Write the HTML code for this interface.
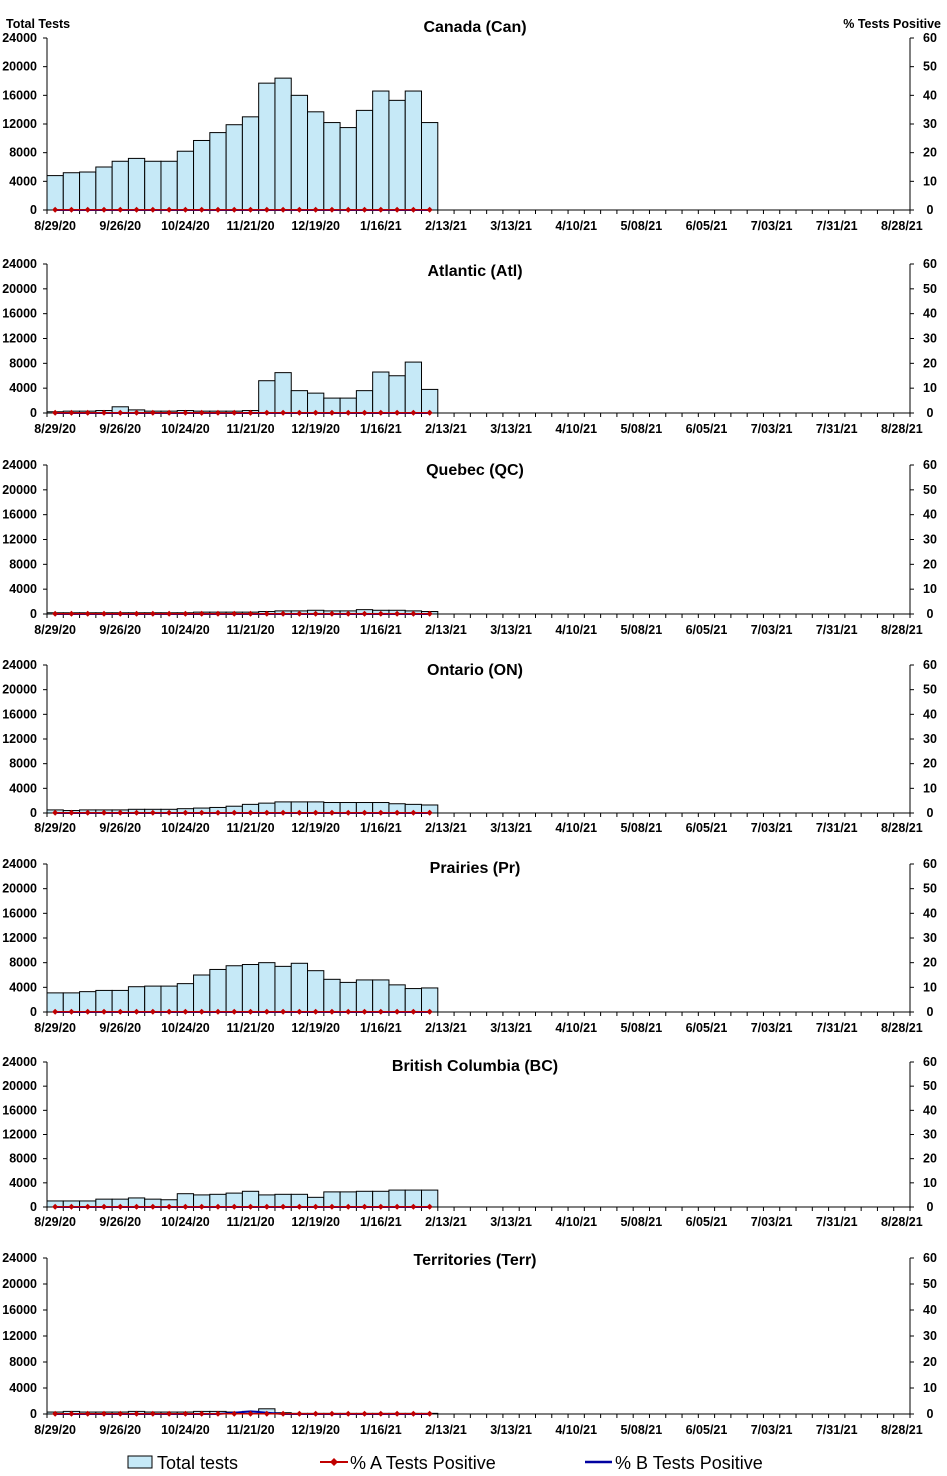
<!DOCTYPE html>
<html><head><meta charset="utf-8"><style>
body{margin:0;background:#fff}
svg{display:block;font-family:"Liberation Sans",Arial,sans-serif}
.t{font-size:12.5px;font-weight:bold;fill:#000}
.ti{font-size:16px;font-weight:bold;fill:#000}
</style></head><body>
<svg id="c" width="947" height="1476"></svg>
<script>
const xLabels=["8/29/20","9/26/20","10/24/20","11/21/20","12/19/20","1/16/21","2/13/21","3/13/21","4/10/21","5/08/21","6/05/21","7/03/21","7/31/21","8/28/21"];
const leftTicks=[0,4000,8000,12000,16000,20000,24000];
const rightTicks=[0,10,20,30,40,50,60];
const regions=["Canada (Can)","Atlantic (Atl)","Quebec (QC)","Ontario (ON)","Prairies (Pr)","British Columbia (BC)","Territories (Terr)"];
const canTests=[4800,5200,5300,6000,6800,7200,6800,6800,8200,9700,10800,11900,13000,17700,18400,16000,13700,12200,11500,13900,16600,15300,16600,12200];
const atlTests=[200,300,300,400,1000,500,300,300,400,300,300,300,400,5200,6500,3600,3200,2400,2400,3600,6600,6000,8200,3800];
const qcTests=[200,200,200,200,200,200,200,200,200,300,300,300,300,400,500,500,600,500,500,700,600,600,500,400];
const onTests=[500,400,500,500,500,600,600,600,700,800,900,1100,1400,1600,1800,1800,1800,1700,1700,1700,1700,1500,1400,1300];
const prTests=[3100,3100,3300,3500,3500,4100,4200,4200,4600,6000,6900,7500,7700,8000,7400,7900,6700,5300,4800,5200,5200,4400,3800,3900];
const bcTests=[1000,1000,1000,1300,1300,1500,1300,1200,2200,2000,2100,2300,2600,2000,2100,2100,1600,2500,2500,2600,2600,2800,2800,2800];
const terrTests=[300,400,300,300,300,400,300,300,300,400,400,300,400,800,200,100,100,100,100,100,100,100,100,100];
const canA=[0.1,0.1,0.1,0.1,0.1,0.1,0.1,0.1,0.1,0.1,0.1,0.1,0.1,0.1,0.1,0.1,0.1,0.1,0.1,0.1,0.1,0.1,0.1,0.1];
const canB=[0,0,0,0,0,0,0,0,0,0,0,0,0,0,0,0,0,0,0,0,0,0,0,0];
const terrB=[0,0,0,0,0,0,0,0,0,0,0,0.5,1,0.5,0,0,0,0,0,0,0,0,0,0];
const testsData=[canTests,atlTests,qcTests,onTests,prTests,bcTests,terrTests];
const bData=[canB,canB,canB,canB,canB,canB,terrB];
const panels=[[38,210,26,226],[264,413,270,429],[465,614,469,630],[665,813,669,828],[864,1012,867,1028],[1062,1207,1065,1222],[1258,1414,1259,1430]];
const NS="http://www.w3.org/2000/svg",svg=document.getElementById('c');
function el(tag,attrs,parent,txt){const e=document.createElementNS(NS,tag);for(const k in attrs)e.setAttribute(k,attrs[k]);if(txt!==undefined)e.textContent=txt;(parent||svg).appendChild(e);return e;}
const X0=47,X1=910,NW=53,W=(X1-X0)/NW;
function xs(i){return X0+W*(i+0.5);}
let h=el('text',{x:6,y:28,class:'t'},svg,'Total Tests');


h=el('text',{x:941,y:28,class:'t','text-anchor':'end'},svg,'% Tests Positive');


panels.forEach((p,pi)=>{
 const [top,bot,ty,ly]=p;
 const g=el('g',{});
 
 
 const yL=v=>bot-(v/24000)*(bot-top), yR=v=>bot-(v/60)*(bot-top);
 const t=el('text',{x:475,y:ty+6,class:'ti','text-anchor':'middle'},g,regions[pi]);
 
 
 testsData[pi].forEach((v,i)=>{
  const r=el('rect',{x:xs(i)-W/2,y:yL(v),width:W,height:bot-yL(v),fill:'#c6e9f7',stroke:'#000','stroke-width':1},g);
  
  
 });
 el('line',{x1:X0,y1:top,x2:X0,y2:bot,stroke:'#000'},g);
 el('line',{x1:X1,y1:top,x2:X1,y2:bot,stroke:'#000'},g);
 el('line',{x1:X0,y1:bot,x2:X1,y2:bot,stroke:'#000'},g);
 leftTicks.forEach(v=>{const y=yL(v);el('line',{x1:X0-4,y1:y,x2:X0,y2:y,stroke:'#000'},g);
  const tt=el('text',{x:37,y:y+4,class:'t','text-anchor':'end'},g,v);
  });
 rightTicks.forEach(v=>{const y=yR(v);el('line',{x1:X1,y1:y,x2:X1+4,y2:y,stroke:'#000'},g);
  const tt=el('text',{x:930,y:y+4,class:'t','text-anchor':'middle'},g,v);
  });
 for(let i=0;i<=NW;i++){const x=X0+W*i;el('line',{x1:x,y1:bot,x2:x,y2:bot+4,stroke:'#000'},g);}
 xLabels.forEach((l,i)=>{const tt=el('text',{x:xs(i*4),y:ly+4,class:'t','text-anchor':'middle'},g,l);
  });
 const b=bData[pi];
 const bl=el('polyline',{points:b.map((v,i)=>xs(i)+','+yR(v)).join(' '),fill:'none',stroke:'#0000a0','stroke-width':2},g);
 
 const al=el('polyline',{points:canA.map((v,i)=>xs(i)+','+yR(v)).join(' '),fill:'none',stroke:'#c00000','stroke-width':1.5},g);
 
 canA.forEach((v,i)=>{const x=xs(i),y=yR(v);
  const d=el('polygon',{points:`${x},${y-3} ${x+3},${y} ${x},${y+3} ${x-3},${y}`,fill:'#c00000'},g);
  });
});
const lg=el('g',{});


el('rect',{x:128,y:1456,width:24,height:12,fill:'#c6e9f7',stroke:'#000'},lg);
el('text',{x:157,y:1469,'font-size':'18'},lg,'Total tests');
el('line',{x1:320,y1:1462,x2:348,y2:1462,stroke:'#c00000','stroke-width':2},lg);
el('polygon',{points:'334,1458 338,1462 334,1466 330,1462',fill:'#c00000'},lg);
el('text',{x:350,y:1469,'font-size':'18'},lg,'% A Tests Positive');
el('line',{x1:585,y1:1462,x2:612,y2:1462,stroke:'#0000a0','stroke-width':2.5},lg);
el('text',{x:615,y:1469,'font-size':'18'},lg,'% B Tests Positive');
</script></body></html>
